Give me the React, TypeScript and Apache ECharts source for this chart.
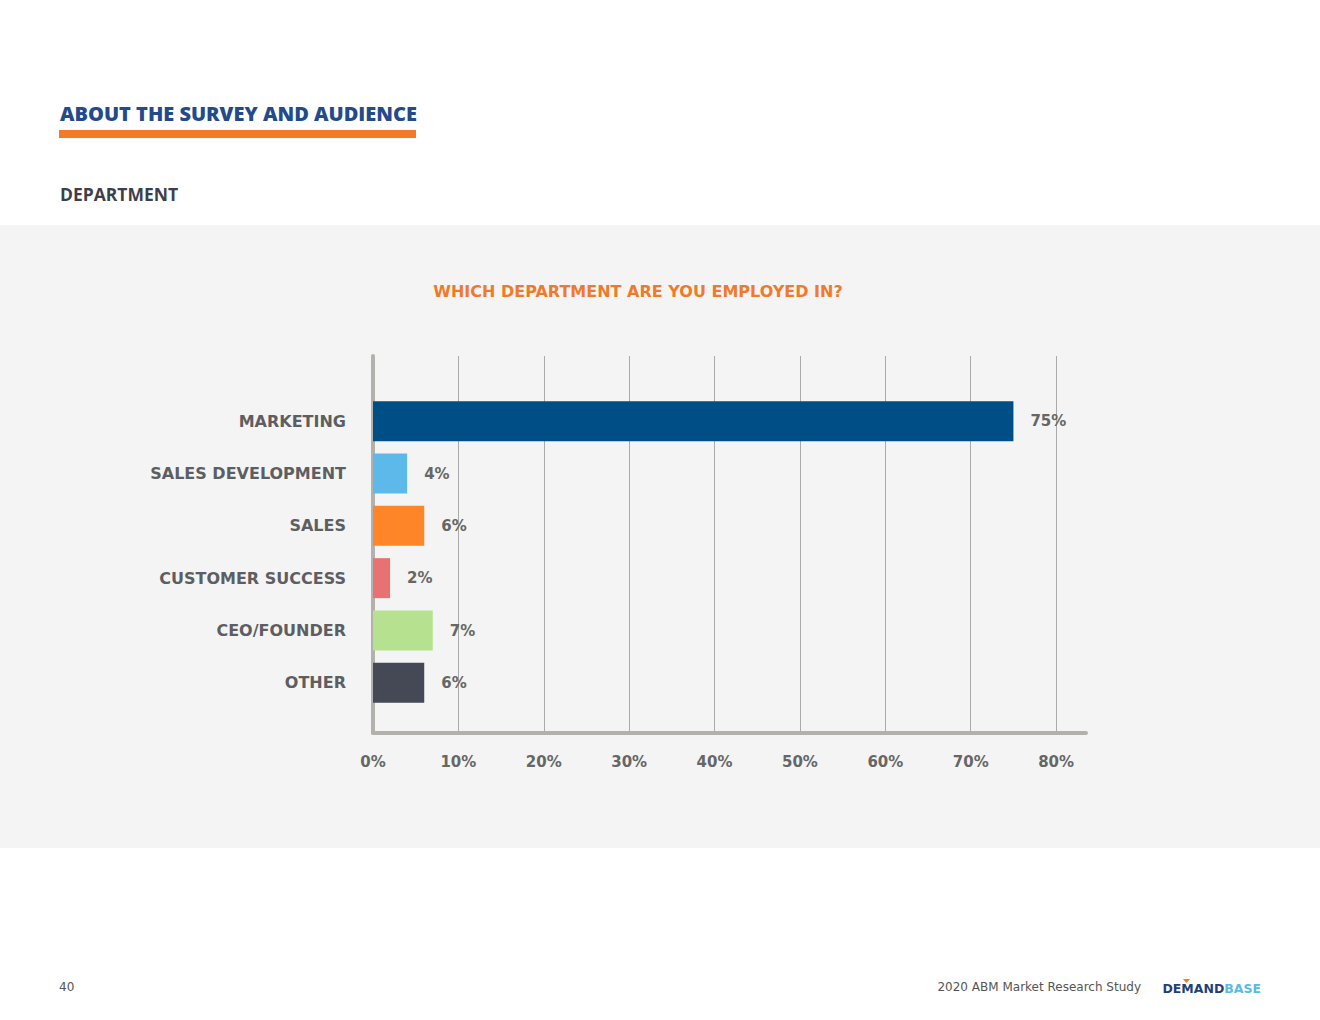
import React, { useEffect, useRef } from "react";
import * as echarts from "echarts";

const categories = ["MARKETING", "SALES DEVELOPMENT", "SALES", "CUSTOMER SUCCESS", "CEO/FOUNDER", "OTHER"];
const values = [75, 4, 6, 2, 7, 6];
const barColors = ["#004e86", "#5cb9e9", "#ff8529", "#e87272", "#b6e290", "#444955"];
const tickValues = [0, 10, 20, 30, 40, 50, 60, 70, 80];

const FONT = "'Open Sans', 'Noto Sans', sans-serif";
const WIDE = "'DejaVu Sans', 'Open Sans', sans-serif";

export default function App() {
  const ref = useRef<HTMLDivElement>(null);
  useEffect(() => {
    if (!ref.current) return;
    const chart = echarts.init(ref.current, undefined, { renderer: "svg" });
    const axisMax = 83.5;
    const option: any = {
      animation: false,
      backgroundColor: "#ffffff",
      graphic: [
        { type: "rect", z: -10, shape: { x: 0, y: 225, width: 1320, height: 623 }, style: { fill: "#f4f4f4" } },
        {
          type: "text", x: 60, y: 113,
          style: { text: "ABOUT THE SURVEY AND AUDIENCE", fill: "#234a8a", font: `800 20px ${FONT}`, verticalAlign: "middle" },
        },
        { type: "rect", shape: { x: 59, y: 130, width: 357, height: 8 }, style: { fill: "#f47a28" } },
        {
          type: "text", x: 60, y: 194,
          style: { text: "DEPARTMENT", fill: "#3e3f4a", font: `700 17.5px ${FONT}`, verticalAlign: "middle" },
        },
        {
          type: "text", x: 638, y: 291,
          style: { text: "WHICH DEPARTMENT ARE YOU EMPLOYED IN?", fill: "#f07a2a", font: `bold 16px ${WIDE}`, align: "center", verticalAlign: "middle" },
        },
        {
          type: "text", x: 59, y: 987,
          style: { text: "40", fill: "#555555", font: `normal 12px ${WIDE}`, verticalAlign: "middle" },
        },
        {
          type: "text", x: 1141, y: 987,
          style: { text: "2020 ABM Market Research Study", fill: "#555555", font: `normal 12px ${WIDE}`, align: "right", verticalAlign: "middle" },
        },
        {
          type: "text", x: 1261, y: 988,
          style: {
            text: "{a|DEMAND}{b|BASE}", align: "right", verticalAlign: "middle",
            rich: {
              a: { fill: "#1f3f7a", font: `bold 12.5px ${WIDE}` },
              b: { fill: "#5cb9e9", font: `bold 12.5px ${WIDE}` },
            },
          },
        },
        { type: "polygon", shape: { points: [[1183, 979], [1190, 979], [1186.5, 983]] }, style: { fill: "#f47a28" } },
      ],
      grid: [
        { left: 373, top: 356, width: 713, height: 377 },
        { left: 373, top: 395, width: 713, height: 314 },
      ],
      xAxis: [
        {
          gridIndex: 0, type: "value", min: 0, max: axisMax, interval: 10,
          axisLine: { show: true, lineStyle: { color: "#b3b1ad", width: 4 } },
          axisTick: { show: false },
          splitLine: { show: true, showMaxLine: false, lineStyle: { color: "#aaaaaa", width: 1 } },
          axisLabel: {
            showMaxLabel: false, margin: 21, color: "#666666", fontFamily: WIDE, fontWeight: "bold", fontSize: 15,
            formatter: (v: number) => (tickValues.includes(v) ? `${v}%` : ""),
          },
        },
        { gridIndex: 1, type: "value", min: 0, max: axisMax, show: false },
      ],
      yAxis: [
        {
          gridIndex: 0, type: "value", min: 0, max: 1,
          axisLine: { show: true, onZero: false, lineStyle: { color: "#b3b1ad", width: 4 } },
          axisTick: { show: false }, axisLabel: { show: false }, splitLine: { show: false },
        },
        {
          gridIndex: 1, type: "category", data: categories, inverse: true,
          axisLine: { show: false }, axisTick: { show: false },
          axisLabel: {
            margin: 27, color: "#5d5e62", fontFamily: WIDE, fontWeight: "bold", fontSize: 16,
            padding: [0, 0, 7, 0],
          },
        },
      ],
      series: [
        {
          type: "bar", xAxisIndex: 1, yAxisIndex: 1, barWidth: 40,
          data: values.map((v, i) => ({ value: v, itemStyle: { color: barColors[i] } })),
          label: {
            show: true, position: "right", distance: 17, formatter: "{c}%",
            color: "#666666", fontFamily: WIDE, fontWeight: "bold", fontSize: 15,
          },
        },
      ],
    };
    chart.setOption(option);
    return () => chart.dispose();
  }, []);
  return <div ref={ref} style={{ position: "fixed", left: 0, top: 0, width: 1320, height: 1020 }} />;
}
